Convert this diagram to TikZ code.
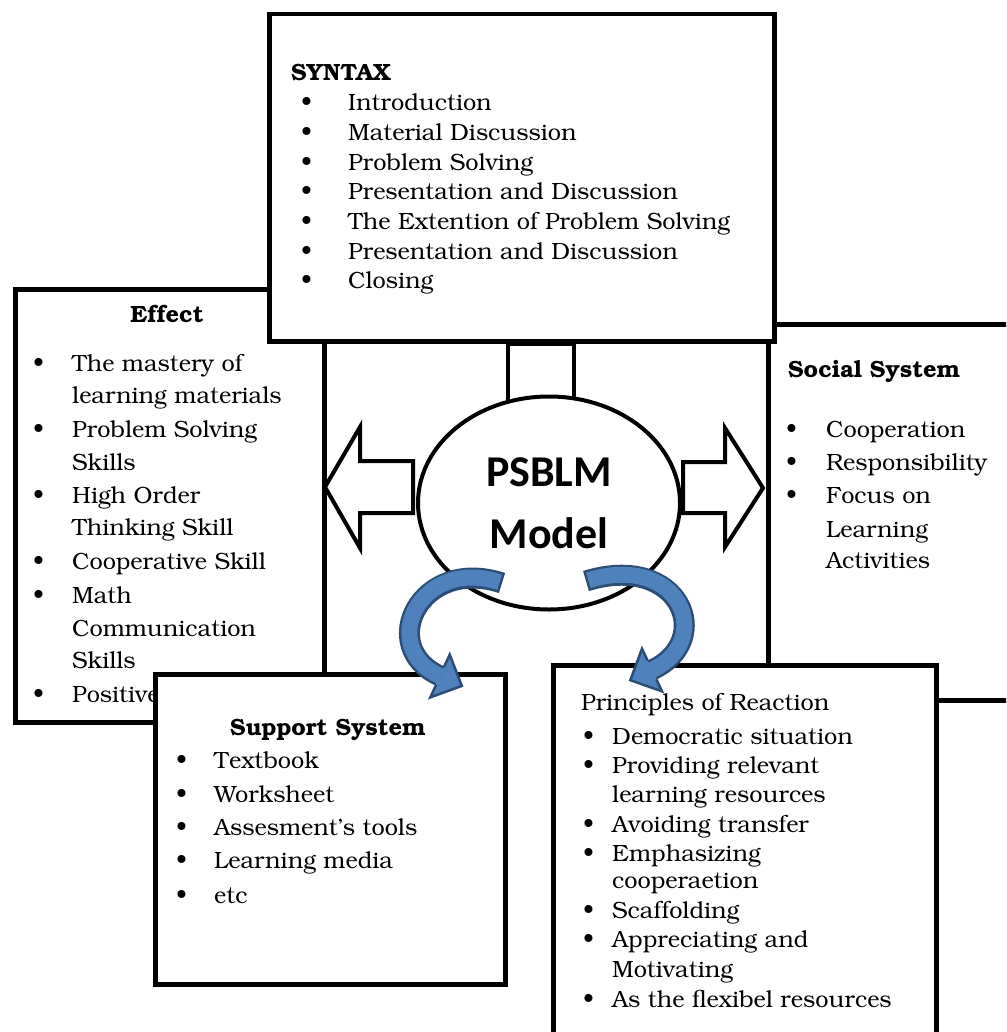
\documentclass[tikz,border=0pt]{standalone}
\usepackage[T1]{fontenc}
\usepackage{fontspec}
\usepackage{tikz}
\usetikzlibrary{shapes.geometric}
\newfontfamily\calibri{Carlito}
\newcommand\bkfont{\fontencoding{T1}\fontfamily{pbk}\fontseries{m}\fontshape{n}\selectfont}
\pgfdeclarelayer{edgelayer}
\pgfsetlayers{edgelayer,main}
\definecolor{arrowblue}{HTML}{4F81BD}
\definecolor{arrowedge}{HTML}{2C4D75}
\tikzstyle{box}=[draw=black, fill=white, line width=4.5pt, rectangle, inner sep=0pt, anchor=north west]
\tikzstyle{txt}=[anchor=base west, inner sep=0pt, font=\bkfont\fontsize{23.5}{28}\selectfont]
\tikzstyle{head}=[txt, font=\bkfont\bfseries\fontsize{23.5}{28}\selectfont]
\tikzstyle{blockarrow}=[draw=black, fill=white, line width=4pt, line join=miter]
\tikzstyle{bar}=[draw=black, fill=white, line width=4pt]
\tikzstyle{bandout}=[draw=arrowedge, line width=21pt]
\tikzstyle{bandin}=[draw=arrowblue, line width=16pt, shorten <=2.5pt]
\tikzstyle{tipfill}=[fill=arrowblue]
\tikzstyle{tipedge}=[draw=arrowedge, line width=2.5pt, line join=miter]

\begin{document}
\begin{tikzpicture}[x=1pt, y=-1pt]
    \useasboundingbox (0,0) rectangle (1006,1032);
    \clip (0,0) rectangle (1006,1032);

    % effect (left)
    \node [box, minimum width=309, minimum height=433] (effect) at (13,287) {};
    \node [head, anchor=base] (efftitle) at (167,322) {Effect};
    \foreach \y/\t in {371/The mastery of, 403/learning materials, 437/Problem Solving, 470/Skills,
                       503/High Order, 535/Thinking Skill, 569/Cooperative Skill, 603/Math,
                       636/Communication, 668/Skills, 702/Positive}
        \node [txt] (eff-\y) at (72,\y) {\t};
    \foreach \y in {371,437,503,569,603,702}
        \node [txt] (effb-\y) at (33,\y) {\textbullet};

    % social system (right)
    \node [box, minimum width=300, minimum height=376] (social) at (766,322) {};
    \node [head] (soctitle) at (788,377) {Social System};
    \foreach \y/\t in {437/Cooperation, 470/Responsibility, 503/Focus on, 537/Learning, 568/Activities}
        \node [txt] (soc-\y) at (826,\y) {\t};
    \foreach \y in {437,470,503}
        \node [txt] (socb-\y) at (786,\y) {\textbullet};

    % syntax (top)
    \node [box, minimum width=505, minimum height=327] (syntax) at (267,12) {};
    \node [head] (syntitle) at (291,81) {SYNTAX};
    \foreach \t [count=\i] in {Introduction, Material Discussion, Problem Solving,
                               Presentation and Discussion, The Extention of Problem Solving,
                               Presentation and Discussion, Closing}
    {
        \node [txt] (syn-\i) at (348,81+29.67*\i) {\t};
        \node [txt] (synb-\i) at (301,81+29.67*\i) {\textbullet};
    }

    % model
    \node [ellipse, draw=black, fill=white, line width=4pt, minimum width=262, minimum height=213,
           inner sep=0pt, align=center, font=\calibri\bfseries\fontsize{44}{62}\selectfont] (model) at (549,503) {PSBLM\\Model};
    \begin{pgfonlayer}{edgelayer}
        \draw [bar] ([xshift=-41pt, yshift=-20pt]model.north) rectangle ([xshift=25pt]model.north |- syntax.south);
    \end{pgfonlayer}

    \draw [blockarrow] (413,461) -- (360,461) -- (360,427) -- (325,487) -- (360,548) -- (360,513) -- (413,513) -- cycle;
    \draw [blockarrow] (683,462) -- (725,462) -- (725,428) -- (763,488) -- (725,547) -- (725,513) -- (683,513) -- cycle;

    % support system
    \node [box, minimum width=350, minimum height=310] (support) at (153,672) {};
    \node [head, anchor=base] (suptitle) at (328,735) {Support System};
    \foreach \y/\t in {768/Textbook, 802/Worksheet, 835/Assesment's tools, 868/Learning media, 903/etc}
    {
        \node [txt] (sup-\y) at (214,\y) {\t};
        \node [txt] (supb-\y) at (176,\y) {\textbullet};
    }

    % principles of reaction
    \node [box, minimum width=383, minimum height=420] (reaction) at (551,663) {};
    \node [txt] (reatitle) at (581,710) {Principles of Reaction};
    \foreach \y/\t in {744/Democratic situation, 773/Providing relevant, 802/learning resources,
                       832/Avoiding transfer, 861/Emphasizing, 888/cooperaetion, 918/Scaffolding,
                       947/Appreciating and, 977/Motivating, 1007/As the flexibel resources}
        \node [txt] (rea-\y) at (612,\y) {\t};
    \foreach \y in {744,773,832,861,918,947,1007}
        \node [txt] (reab-\y) at (583,\y) {\textbullet};

    % curved arrows
    \coordinate (ls) at (502,583);
    \coordinate (le) at (440,676);
    \coordinate (rs) at (586,581);
    \coordinate (re) at (652,670);
    \draw [bandout] (ls) .. controls (420,556) and (376,647) .. (le);
    \draw [bandin] (ls) .. controls (420,556) and (376,647) .. (le);
    \fill [tipfill] (449.7,654.6) -- (461.8,685.9) -- (430.3,697.4) -- cycle;
    \draw [tipedge] (443.9,667.2) -- (449.7,654.6) -- (461.8,685.9) -- (430.3,697.4) -- (436.1,684.8);
    \draw [bandout] (rs) .. controls (680,552) and (716,640) .. (re);
    \draw [bandin] (rs) .. controls (680,552) and (716,640) .. (re);
    \fill [tipfill] (642.0,648.7) -- (630.3,680.2) -- (662.0,691.3) -- cycle;
    \draw [tipedge] (647.6,660.6) -- (642.0,648.7) -- (630.3,680.2) -- (662.0,691.3) -- (656.4,679.4);
\end{tikzpicture}
\end{document}
